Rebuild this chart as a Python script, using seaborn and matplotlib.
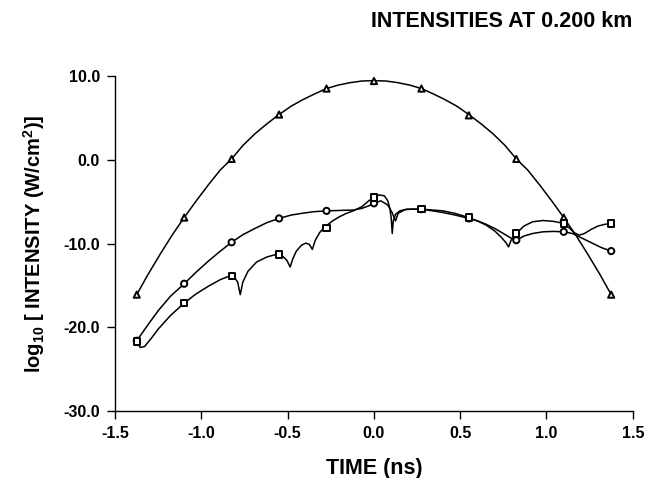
import numpy as np
import pandas as pd
import matplotlib
matplotlib.use("Agg")
import matplotlib.pyplot as plt
import seaborn as sns

# marker times (ns)
t_mark = [-1.375, -1.1, -0.825, -0.55, -0.275, 0.0, 0.275, 0.55, 0.825, 1.1, 1.375]
tri_mark = [-16.1, -6.9, 0.1, 5.4, 8.5, 9.4, 8.5, 5.3, 0.1, -6.9, -16.1]
circ_mark = [-21.6, -14.8, -9.85, -7.0, -6.1, -5.2, -5.9, -7.0, -9.6, -8.6, -10.9]
sq_mark = [-21.7, -17.1, -13.9, -11.3, -8.1, -4.5, -5.9, -6.9, -8.8, -7.6, -7.6]

# curves
tri_t = [-1.375, -1.31, -1.24, -1.17, -1.1, -1.03, -0.96, -0.89, -0.825, -0.76, -0.69,
         -0.62, -0.55, -0.48, -0.41, -0.34, -0.275, -0.21, -0.14, -0.07, 0.0,
         0.07, 0.14, 0.21, 0.275, 0.34, 0.41, 0.48, 0.55, 0.62, 0.69, 0.76,
         0.825, 0.89, 0.96, 1.03, 1.1, 1.17, 1.24, 1.31, 1.375]
tri_y = [-16.1, -13.7, -11.3, -9.0, -6.9, -4.9, -3.0, -1.2, 0.1, 1.7, 3.1,
         4.3, 5.4, 6.4, 7.2, 7.9, 8.5, 8.9, 9.2, 9.4, 9.45,
         9.4, 9.2, 8.9, 8.5, 7.9, 7.2, 6.4, 5.4, 4.3, 3.1, 1.7,
         0.1, -1.2, -3.0, -4.9, -6.9, -9.0, -11.3, -13.7, -16.1]

circ_t = [-1.375, -1.31, -1.25, -1.18, -1.1, -1.03, -0.96, -0.89, -0.825, -0.76, -0.69,
          -0.62, -0.55, -0.48, -0.42, -0.35, -0.275, -0.2, -0.12, -0.07, -0.03, 0.0,
          0.04, 0.08, 0.105, 0.125, 0.14, 0.18, 0.22, 0.275, 0.34, 0.4, 0.47, 0.55,
          0.6, 0.65, 0.7, 0.75, 0.79, 0.825, 0.87, 0.92, 0.98, 1.04, 1.1, 1.15, 1.2,
          1.26, 1.32, 1.375]
circ_y = [-21.6, -19.7, -18.0, -16.3, -14.8, -13.4, -12.1, -10.9, -9.85, -8.95, -8.2,
          -7.5, -7.0, -6.6, -6.4, -6.2, -6.1, -6.05, -6.0, -5.8, -5.5, -5.2,
          -4.9, -5.4, -6.3, -7.3, -6.4, -5.95, -5.9, -5.9, -6.1, -6.3, -6.6, -7.0,
          -7.3, -7.7, -8.2, -8.8, -9.3, -9.6, -9.1, -8.8, -8.6, -8.55, -8.6, -8.8, -9.3,
          -9.9, -10.5, -10.9]

sq_t = [-1.375, -1.355, -1.33, -1.29, -1.25, -1.18, -1.1, -1.03, -0.96, -0.89, -0.84,
        -0.81, -0.79, -0.775, -0.76, -0.73, -0.68, -0.62, -0.567, -0.53, -0.505, -0.486,
        -0.47, -0.45, -0.42, -0.395, -0.375, -0.357, -0.34, -0.315, -0.29, -0.24, -0.2,
        -0.16, -0.12, -0.07, -0.03, 0.0, 0.03, 0.06, 0.08, 0.092, 0.1, 0.106, 0.112,
        0.125, 0.15, 0.19, 0.275, 0.34, 0.4, 0.47, 0.55, 0.6, 0.65, 0.7, 0.74, 0.765,
        0.78, 0.795, 0.825, 0.87, 0.92, 0.98, 1.04, 1.1, 1.13, 1.16, 1.19, 1.22, 1.26,
        1.3, 1.34, 1.375]
sq_y = [-21.7, -22.4, -22.3, -21.3, -20.2, -18.6, -17.1, -16.0, -15.1, -14.3, -13.9,
        -14.0, -14.6, -16.1, -14.6, -13.3, -12.2, -11.6, -11.3, -11.5, -12.0, -12.8,
        -11.8, -10.9, -10.2, -9.95, -10.1, -10.7, -9.6, -8.7, -8.1, -7.3, -6.8,
        -6.4, -6.1, -5.6, -4.9, -4.5, -4.2, -4.3, -4.9, -5.8, -7.0, -8.8, -7.3,
        -6.5, -6.1, -5.9, -5.9, -6.0, -6.1, -6.4, -6.9, -7.3, -7.8, -8.5, -9.3, -9.9,
        -10.4, -9.6, -8.8, -7.9, -7.4, -7.25, -7.35, -7.6, -8.1, -8.7, -9.0, -8.8, -8.3,
        -7.9, -7.7, -7.6]

sns.set_theme(style="ticks")
plt.rcParams["font.family"] = ["Liberation Sans", "DejaVu Sans"]
plt.rcParams["font.weight"] = "bold"
plt.rcParams["mathtext.fontset"] = "custom"
plt.rcParams["mathtext.rm"] = "Liberation Sans:bold"
plt.rcParams["mathtext.bf"] = "Liberation Sans:bold"
plt.rcParams["text.color"] = "black"
plt.rcParams["axes.labelcolor"] = "black"
plt.rcParams["xtick.color"] = "black"
plt.rcParams["ytick.color"] = "black"

fig = plt.figure(figsize=(6.47, 4.78), dpi=100)
ax = fig.add_axes([0.178, 0.140, 0.800, 0.701])

for tt, yy in [(tri_t, tri_y), (circ_t, circ_y), (sq_t, sq_y)]:
    sns.lineplot(x=tt, y=yy, sort=False, estimator=None, color="black",
                 linewidth=1.1, ax=ax)

marks = pd.DataFrame({"t": t_mark * 3,
                      "v": tri_mark + circ_mark + sq_mark,
                      "kind": ["tri"] * 11 + ["circ"] * 11 + ["sq"] * 11})
sns.scatterplot(data=marks, x="t", y="v", style="kind",
                markers={"tri": "^", "circ": "o", "sq": "s"},
                s=20, facecolor="white", edgecolor="black", linewidth=1.4,
                legend=False, zorder=5, ax=ax)

ax.set_xlim(-1.5, 1.5)
ax.set_ylim(-30, 10)
ax.set_xticks([-1.5, -1.0, -0.5, 0.0, 0.5, 1.0, 1.5])
ax.set_yticks([-30, -20, -10, 0, 10])
ax.xaxis.set_major_formatter(matplotlib.ticker.FormatStrFormatter("%.1f"))
ax.yaxis.set_major_formatter(matplotlib.ticker.FormatStrFormatter("%.1f"))
ax.tick_params(direction="out", length=6, width=1, labelsize=11.5, color="black", pad=5)
for lab in ax.get_xticklabels() + ax.get_yticklabels():
    lab.set_fontweight("bold")
sns.despine(ax=ax)
for sp in ["left", "bottom"]:
    ax.spines[sp].set_linewidth(1)
    ax.spines[sp].set_color("black")

ax.set_xlabel("TIME (ns)", fontsize=15.5, fontweight="bold", labelpad=12)
ax.set_ylabel(r"log$_{\mathbf{10}}$ [ INTENSITY (W/cm$^{\mathbf{2}}$)]", fontsize=14.5,
              fontweight="bold", labelpad=12)
fig.text(0.978, 0.955, "INTENSITIES AT 0.200 km", ha="right", va="center",
         fontsize=15.5, fontweight="bold")

fig.savefig("out.png", dpi=100)
